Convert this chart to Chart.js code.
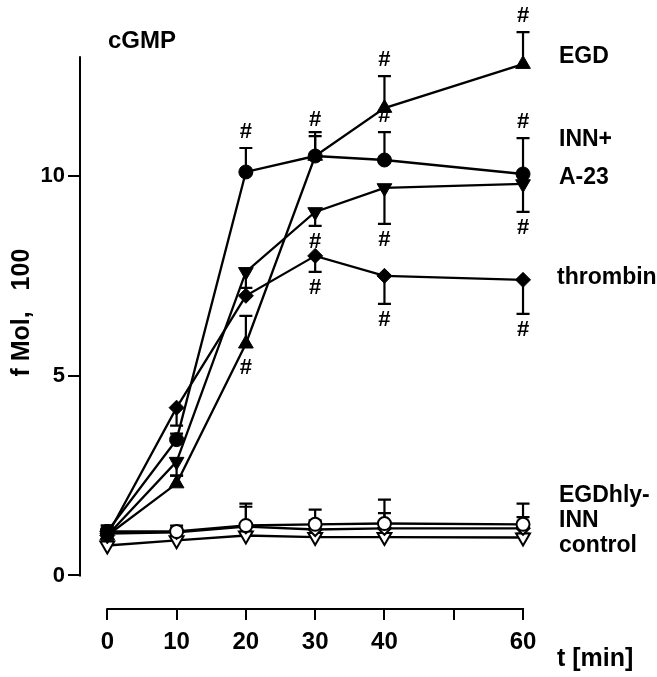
<!DOCTYPE html>
<html>
<head>
<meta charset="utf-8">
<script src="https://cdn.jsdelivr.net/npm/chart.js@4.4.1/dist/chart.umd.min.js"></script>
<style>
    html, body { margin: 0; padding: 0; background: #fff; }
    #wrap { width: 657px; height: 677px; }
</style>
</head>
<body>
<div id="wrap"><canvas id="myChart" width="657" height="677"></canvas></div>
<script>
// temps en minuts
let temps = [0, 10, 20, 30, 40, 60];
let ticksX = [0, 10, 20, 30, 40, 50, 60];
let ticksY = [0, 5, 10];

// valors (f Mol / 100)
let egd = [1.0, 2.3, 5.8, 10.5, 11.7, 12.8];
let innPlus = [1.1, 3.4, 10.1, 10.5, 10.4, 10.05];
let a23 = [1.0, 2.85, 7.6, 9.1, 9.7, 9.8];
let thrombin = [1.0, 4.2, 7.0, 8.0, 7.5, 7.4];
let egdhly = [1.1, 1.1, 1.25, 1.28, 1.3, 1.28];
let inn = [1.05, 1.08, 1.22, 1.15, 1.18, 1.18];
let control = [0.75, 0.88, 1.0, 0.96, 0.96, 0.95];

// barres d'error (una sola direccio)
let egdErr = [0.2, 0.2, 0.7, 0.5, 0.8, 0.8];
let innPlusErr = [0.15, 0.15, 0.6, 0.6, 0.7, 0.9];
let a23Err = [0.15, 0.35, 0.4, 0.35, 0.9, 0.7];
let thrombinErr = [0.15, 0.45, 0, 0.4, 0.7, 0.85];
let egdhlyErr = [0.15, 0.15, 0.55, 0.37, 0.6, 0.52];
let innErr = [0.1, 0.12, 0.5, 0.23, 0.38, 0.28];
let controlErr = [0.1, 0.1, 0.1, 0.1, 0.1, 0.1];

// marques de significacio (#)
let egdSig = ["", "", "down", "up", "up", "up"];
let innPlusSig = ["", "", "up", "", "up", "up"];
let a23Sig = ["", "", "", "down", "down", "down"];
let thrombinSig = ["", "", "", "down", "down", "down"];
let noSig = ["", "", "", "", "", ""];

let fontFam = "'Liberation Sans', Arial, Helvetica, sans-serif";

let series = [
    { nom: "EGD", valors: egd, err: egdErr, dir: 1, sig: egdSig, estil: "triangle", rot: 0, ple: true, radi: 8.5 },
    { nom: "INN+", valors: innPlus, err: innPlusErr, dir: 1, sig: innPlusSig, estil: "circle", rot: 0, ple: true, radi: 7 },
    { nom: "A-23", valors: a23, err: a23Err, dir: -1, sig: a23Sig, estil: "triangle", rot: 180, ple: true, radi: 8.5 },
    { nom: "thrombin", valors: thrombin, err: thrombinErr, dir: -1, sig: thrombinSig, estil: "rectRot", rot: 0, ple: true, radi: 7.5 },
    { nom: "EGDhly-", valors: egdhly, err: egdhlyErr, dir: 1, sig: noSig, estil: "circle", rot: 0, ple: false, radi: 6.5 },
    { nom: "INN", valors: inn, err: innErr, dir: 1, sig: noSig, estil: "rectRot", rot: 0, ple: false, radi: 6.5 },
    { nom: "control", valors: control, err: controlErr, dir: 1, sig: noSig, estil: "triangle", rot: 180, ple: false, radi: 8 }
];

let datasets = [];
for (let i = 0; i < series.length; i++) {
    let s = series[i];
    datasets.push({
        label: s.nom,
        data: temps.map(function (t, j) { return { x: t, y: s.valors[j] }; }),
        borderColor: "#000",
        borderWidth: 2.3,
        pointStyle: s.estil,
        pointRotation: s.rot,
        pointRadius: s.radi,
        pointBackgroundColor: s.ple ? "#000" : "#fff",
        pointBorderColor: "#000",
        pointBorderWidth: s.ple ? 1 : 2,
        tension: 0,
        clip: false
    });
}

let extres = {
    id: "extres",
    beforeDatasetsDraw(chart) {
        let ctx = chart.ctx;
        let sx = chart.scales.x;
        let sy = chart.scales.y;
        ctx.save();
        ctx.strokeStyle = "#000";
        ctx.lineWidth = 2.2;
        for (let i = 0; i < series.length; i++) {
            let s = series[i];
            for (let j = 0; j < temps.length; j++) {
                if (!s.err[j]) continue;
                let x = sx.getPixelForValue(temps[j]);
                let y0 = sy.getPixelForValue(s.valors[j]);
                let y1 = sy.getPixelForValue(s.valors[j] + s.dir * s.err[j]);
                ctx.beginPath();
                ctx.moveTo(x, y0);
                ctx.lineTo(x, y1);
                ctx.moveTo(x - 6.5, y1);
                ctx.lineTo(x + 6.5, y1);
                ctx.stroke();
            }
        }
        // eixos
        let a = chart.chartArea;
        ctx.lineWidth = 2;
        ctx.beginPath();
        ctx.moveTo(a.left, sy.getPixelForValue(0) + 1);
        ctx.lineTo(a.left, sy.getPixelForValue(13));
        ctx.moveTo(sx.getPixelForValue(0) - 1, a.bottom);
        ctx.lineTo(sx.getPixelForValue(60) + 1, a.bottom);
        ctx.stroke();
        ctx.restore();
    },
    afterDatasetsDraw(chart) {
        let ctx = chart.ctx;
        let sx = chart.scales.x;
        let sy = chart.scales.y;
        ctx.save();
        ctx.fillStyle = "#000";
        ctx.textAlign = "center";
        ctx.textBaseline = "middle";
        ctx.font = "bold 22px " + fontFam;
        for (let i = 0; i < series.length; i++) {
            let s = series[i];
            for (let j = 0; j < temps.length; j++) {
                let d = s.sig[j];
                if (d == "") continue;
                let x = sx.getPixelForValue(temps[j]);
                let signe = d == "up" ? 1 : -1;
                let y;
                if (signe == s.dir && s.err[j] > 0) {
                    y = sy.getPixelForValue(s.valors[j] + s.dir * s.err[j]) - signe * 16;
                } else {
                    y = sy.getPixelForValue(s.valors[j]) - signe * 24;
                }
                ctx.fillText("#", x, y);
            }
        }

        // textos
        ctx.textAlign = "left";
        ctx.font = "bold 24px " + fontFam;
        ctx.fillText("cGMP", 108, 41);
        ctx.font = "bold 23px " + fontFam;
        ctx.fillText("EGD", 559, 57);
        ctx.fillText("INN+", 559, 140);
        ctx.fillText("A-23", 559, 178);
        ctx.fillText("thrombin", 557, 278);
        ctx.fillText("EGDhly-", 559, 496);
        ctx.fillText("INN", 559, 521);
        ctx.fillText("control", 559, 546);
        ctx.font = "bold 25px " + fontFam;
        ctx.fillText("t [min]", 557, 659);
        ctx.restore();
    }
};

let canvas = document.getElementById("myChart");

let grafic = new Chart(canvas, {
    type: "line",
    data: { datasets: datasets },
    options: {
        responsive: false,
        animation: false,
        devicePixelRatio: 1,
        layout: { padding: { top: 8, right: 117, left: 0, bottom: 0 } },
        plugins: {
            legend: { display: false },
            tooltip: { enabled: false }
        },
        scales: {
            x: {
                type: "linear",
                min: -3.94,
                max: 62.45,
                afterBuildTicks: function (s) { s.ticks = ticksX.map(function (v) { return { value: v }; }); },
                afterFit: function (s) { s.height = 68; },
                border: { display: false },
                grid: { drawOnChartArea: false, drawTicks: true, tickLength: 11, color: "#000", lineWidth: 2 },
                ticks: {
                    color: "#000",
                    padding: 8,
                    maxRotation: 0,
                    autoSkip: false,
                    font: { family: fontFam, size: 24, weight: "bold" },
                    callback: function (v) { return v == 50 ? "" : v; }
                }
            },
            y: {
                min: -0.84,
                max: 14,
                afterBuildTicks: function (s) { s.ticks = ticksY.map(function (v) { return { value: v }; }); },
                afterFit: function (s) { s.width = 80; },
                border: { display: false },
                grid: { drawOnChartArea: false, drawTicks: true, tickLength: 12, color: "#000", lineWidth: 2 },
                ticks: {
                    color: "#000",
                    padding: 3,
                    autoSkip: false,
                    font: { family: fontFam, size: 22, weight: "bold" }
                },
                title: {
                    display: true,
                    text: "f Mol,   100",
                    color: "#000",
                    padding: { top: 7, bottom: 0 },
                    font: { family: fontFam, size: 25, weight: "bold" }
                }
            }
        }
    },
    plugins: [extres]
});
</script>
</body>
</html>
